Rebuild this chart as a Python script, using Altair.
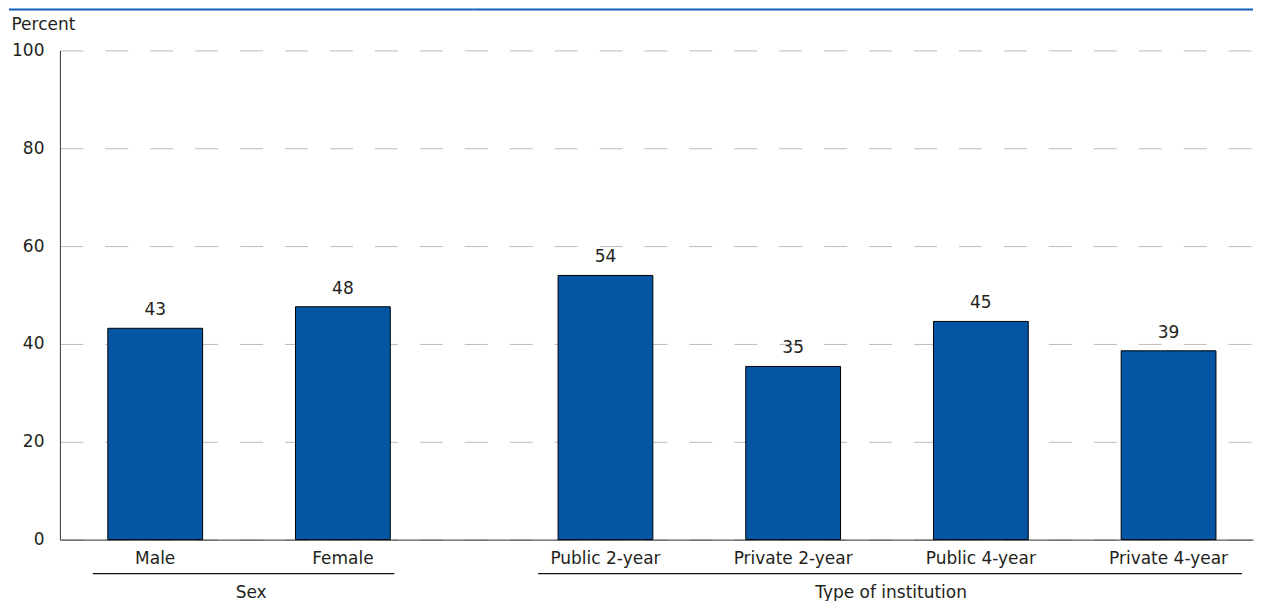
import altair as alt
import pandas as pd

# ---- data ----
sex_cats = ["Male", "Female"]
sex_vals = [43.2, 47.6]
inst_cats = ["Public 2-year", "Private 2-year", "Public 4-year", "Private 4-year"]
inst_vals = [54.0, 35.4, 44.6, 38.6]
y_ticks = [0, 20, 40, 60, 80, 100]

FONT = "DejaVu Sans"
BAR = "#0455a4"
TXT = "#231f20"
H = 490


def panel(cats, vals, width, po, align, group_title, title_x, ul_x, ul_x2, first, dash_offset, top_x):
    df = pd.DataFrame({"cat": cats, "val": vals})
    xaxis = alt.Axis(
        title=group_title, labelAngle=0, ticks=False, domainColor="#333333",
        labelFontSize=17, labelPadding=11, labelColor=TXT,
        titleX=title_x, titleY=58, titleAlign="center", titleBaseline="alphabetic",
        titleFontSize=17, titleFontWeight="normal", titleColor=TXT,
    )
    if first:
        yaxis = alt.Axis(
            values=y_ticks, title="Percent", titleAngle=0, titleX=-49, titleY=-21,
            titleAlign="left", titleBaseline="alphabetic", titleFontSize=17,
            titleFontWeight="normal", titleColor=TXT,
            ticks=False, labelPadding=16, labelFontSize=17, labelColor=TXT,
            domainColor="#333333", grid=True, gridDash=[23, 22], gridColor="#bbbbbb",
        )
    else:
        yaxis = alt.Axis(
            values=y_ticks, title=None, labels=False, ticks=False, domain=False,
            grid=True, gridDash=[23, 22], gridColor="#bbbbbb", gridDashOffset=dash_offset,
        )
    base = alt.Chart(df).encode(
        x=alt.X("cat:N", sort=cats,
                scale=alt.Scale(paddingInner=0.495, paddingOuter=po, align=align),
                axis=xaxis),
        y=alt.Y("val:Q", scale=alt.Scale(domain=[0, 100]), axis=yaxis),
    )
    bars = base.mark_bar(color=BAR, stroke="black", strokeWidth=1)
    labels = base.mark_text(dy=-13, baseline="alphabetic", fontSize=17, font=FONT, color=TXT).encode(
        text=alt.Text("val:Q", format=".0f")
    )
    one = pd.DataFrame({"g": [group_title]})
    underline = alt.Chart(one).mark_rule(color="#111111", strokeWidth=1.2).encode(
        x=alt.value(ul_x), x2=alt.value(ul_x2), y=alt.value(524)
    )
    topline = alt.Chart(one).mark_rule(color="#0e5fbe", strokeWidth=2).encode(
        x=alt.value(top_x), x2=alt.value(width), y=alt.value(-41)
    )
    return alt.layer(bars, labels, underline, topline).properties(width=width, height=H)


left = panel(sex_cats, sex_vals, 414, 0.3486, 0.366, "Sex", 191, 33, 335, True, 0, -51)
right = panel(inst_cats, inst_vals, 781, 0.3246, 0.696, "Type of institution", 418, 65, 770, False, 9, 0)

chart = alt.hconcat(left, right, spacing=0, bounds="flush").configure(
    font=FONT, padding={"left": 0, "top": 0, "right": 0, "bottom": 0}
).configure_view(stroke=None)

chart.save("out.html", embed_options={"renderer": "svg", "actions": False})
